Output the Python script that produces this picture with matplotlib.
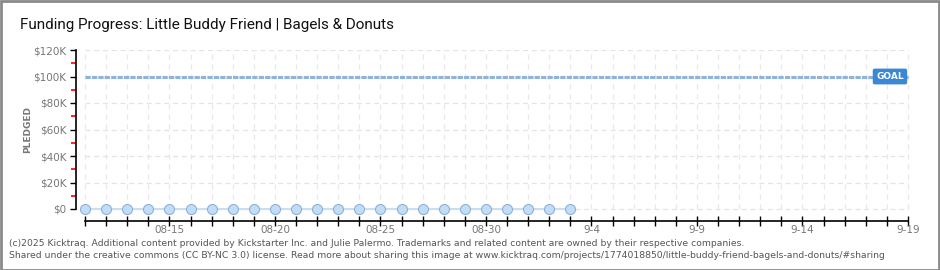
import matplotlib
matplotlib.use("Agg")
import matplotlib.pyplot as plt
import matplotlib.dates as mdates
import pandas as pd

title = "Funding Progress: Little Buddy Friend | Bagels & Donuts"
dates = pd.date_range("2025-08-11", "2025-09-03", freq="D")
pledged = [0] * len(dates)
goal = 100000
axis_start = pd.Timestamp("2025-08-11")
axis_end = pd.Timestamp("2025-09-19")
label_dates = pd.date_range("2025-08-15", "2025-09-19", freq="5D")
label_texts = ["08-15", "08-20", "08-25", "08-30", "9-4", "9-9", "9-14", "9-19"]
yticks = [0, 20000, 40000, 60000, 80000, 100000, 120000]
ytick_labels = ["$0", "$20K", "$40K", "$60K", "$80K", "$100K", "$120K"]
yminor = [10000, 30000, 50000, 70000, 90000, 110000]
footer1 = ("(c)2025 Kicktraq. Additional content provided by Kickstarter Inc. and Julie Palermo. "
           "Trademarks and related content are owned by their respective companies.")
footer2 = ("Shared under the creative commons (CC BY-NC 3.0) license. Read more about sharing this image at "
           "www.kicktraq.com/projects/1774018850/little-buddy-friend-bagels-and-donuts/#sharing")

W, H = 940, 270
fig = plt.figure(figsize=(W / 100, H / 100), dpi=100)
fig.patch.set_facecolor("white")

fig.add_artist(plt.Rectangle((0.5 / W, 0.5 / H), 1 - 1.5 / W, 1 - 1.5 / H, transform=fig.transFigure,
                             fill=False, edgecolor="#8a8a8a", linewidth=2))

l, r, t, b = 76, 912, 50, 221
ax = fig.add_axes([l / W, 1 - b / H, (r - l) / W, (b - t) / H])
ax.set_facecolor("none")

x0 = mdates.date2num(axis_start)
x1 = mdates.date2num(axis_end)
px_per_day = (908 - 85) / (x1 - x0)
xl = x0 - (85 - l) / px_per_day
xr = x1 + (r - 908) / px_per_day
ax.set_xlim(xl, xr)
y_per_px = 120000 / (209 - 50)
ybot = -(b - 209) * y_per_px
ax.set_ylim(ybot, 120000)

all_days = pd.date_range(axis_start, axis_end, freq="D")
ax.vlines(mdates.date2num(all_days), 0, 120000, colors="#e8e8e8", linestyles=(0, (4, 4)), linewidth=0.9, zorder=0)
ax.hlines(yticks, x0, x1, colors="#e4e4e4", linestyles=(0, (4, 3)), linewidth=0.9, zorder=0)

ax.hlines(goal, x0, x1, colors="#8fb3dd", linestyles=(0, (1.7, 0.4)), linewidth=2.2, zorder=2)
ax.text(x1 - 0.2, goal, "GOAL", ha="right", va="center", fontsize=6.5, color="white", fontweight="bold",
        bbox=dict(boxstyle="round,pad=0.3,rounding_size=0.15", facecolor="#3a87d6", edgecolor="#3a87d6"), zorder=4)

ax.plot(mdates.date2num(dates), pledged, color="#c8dff2", linewidth=1.5, zorder=3,
        marker="o", markersize=7.2, markerfacecolor="#c2ddf7", markeredgecolor="#8fb0d6", markeredgewidth=0.8)

for s in ["top", "right"]:
    ax.spines[s].set_visible(False)
ax.spines["left"].set_bounds(0, 120000)
ax.spines["left"].set_linewidth(1.2)
ax.spines["bottom"].set_bounds(x0, x1)
ax.spines["bottom"].set_linewidth(1.2)

ax.set_yticks(yticks)
ax.set_yticklabels(ytick_labels)
ax.set_yticks(yminor, minor=True)
ax.tick_params(axis="y", which="major", length=4, width=1, color="black", labelsize=7.5, labelcolor="#777777", pad=3)
ax.tick_params(axis="y", which="minor", length=3.5, width=1.2, color="#ff0000")

ax.set_xticks(mdates.date2num(all_days))
ax.set_xticklabels(["" for _ in all_days])
ax.xaxis.set_minor_locator(matplotlib.ticker.NullLocator())
ax.tick_params(axis="x", which="major", length=7, width=1, direction="inout", color="black")
for d, txt in zip(label_dates, label_texts):
    ax.text(mdates.date2num(d), ybot - 120000 * 4 / 159, txt, ha="center", va="top",
            fontsize=7.5, color="#777777")

fig.text(28 / W, 1 - 130 / H, "PLEDGED", rotation=90, ha="center", va="center", fontsize=6.5,
         color="#777777", fontweight="bold")

fig.text(20 / W, 1 - 25 / H, title, ha="left", va="center", fontsize=11, color="#111111",
         family=["Roboto", "DejaVu Sans"])
fig.text(9 / W, 1 - 243 / H, footer1, ha="left", va="center", fontsize=6.7, color="#555555")
fig.text(9 / W, 1 - 255 / H, footer2, ha="left", va="center", fontsize=6.7, color="#555555")

fig.savefig("out.png", dpi=100)
